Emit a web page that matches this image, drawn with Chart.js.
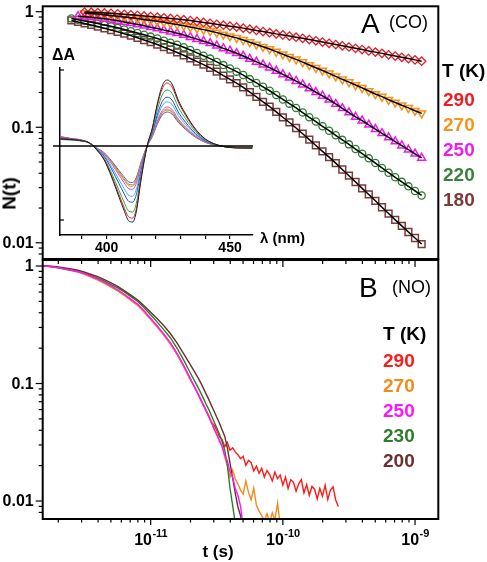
<!DOCTYPE html>
<html>
<head>
<meta charset="utf-8">
<script src="https://cdn.jsdelivr.net/npm/chart.js@4.4.1/dist/chart.umd.min.js"></script>
<style>
  body { margin: 0; background: #fff; }
  #wrap { position: relative; width: 487px; height: 562px; overflow: hidden; font-family: 'Liberation Sans', Arial, sans-serif; }
  canvas { position: absolute; left: 0; top: 0; }
  .t { position: absolute; white-space: nowrap; line-height: 1; color: #000; }
  .b { font-weight: bold; }
</style>
</head>
<body>
<div id="wrap">
  <canvas id="cA" width="487" height="562"></canvas>
  <canvas id="cB" width="487" height="562"></canvas>
  <canvas id="cI" width="487" height="562"></canvas>

  <!-- panel A labels -->
  <div class="t" style="left:361px;top:9.5px;font-size:28px;">A</div>
  <div class="t" style="left:389px;top:13px;font-size:18px;">(CO)</div>
  <div class="t b" style="left:442px;top:61.4px;font-size:19px;">T (K)</div>
  <div class="t b" style="left:443px;top:89.9px;font-size:19px;color:#ee1c24;">290</div>
  <div class="t b" style="left:443px;top:114.9px;font-size:19px;color:#f7941d;">270</div>
  <div class="t b" style="left:443px;top:139.9px;font-size:19px;color:#f01cf0;">250</div>
  <div class="t b" style="left:443px;top:165.4px;font-size:19px;color:#38823a;">220</div>
  <div class="t b" style="left:443px;top:189.9px;font-size:19px;color:#7b3a35;">180</div>

  <!-- inset labels -->
  <div class="t b" style="left:52px;top:47px;font-size:16px;">&Delta;A</div>
  <div class="t b" style="left:260px;top:229.5px;font-size:15px;">&lambda; (nm)</div>

  <!-- panel B labels -->
  <div class="t" style="left:359px;top:274.3px;font-size:28px;">B</div>
  <div class="t" style="left:392px;top:277.8px;font-size:18px;">(NO)</div>
  <div class="t b" style="left:383px;top:323.9px;font-size:19px;">T (K)</div>
  <div class="t b" style="left:383px;top:350.9px;font-size:19px;color:#ff1a1a;">290</div>
  <div class="t b" style="left:383px;top:375.9px;font-size:19px;color:#f7891a;">270</div>
  <div class="t b" style="left:383px;top:400.9px;font-size:19px;color:#ff14ff;">250</div>
  <div class="t b" style="left:383px;top:425.9px;font-size:19px;color:#2e7d2e;">230</div>
  <div class="t b" style="left:383px;top:450.9px;font-size:19px;color:#6e2e2e;">200</div>

  <!-- axis titles -->
  <div class="t b" style="left:-21.5px;top:183.5px;width:60px;height:19px;line-height:19px;text-align:center;font-size:19px;transform:rotate(-90deg);">N(t)</div>
  <div class="t b" style="left:188px;top:542.6px;width:60px;text-align:center;font-size:17px;">t (s)</div>
</div>

<script>
// N(t) recombination kinetics, CO (A) and NO (B), with inset spectra.

const FONT = "'Liberation Sans', Arial, sans-serif";

// ─── Panel A (CO): time grid + survival values ──────────────────────────────

const tA = [
  2.512e-12, 2.818e-12, 3.162e-12, 3.548e-12, 3.981e-12, 4.467e-12, 5.012e-12, 5.623e-12, 6.310e-12, 7.079e-12, 7.943e-12, 8.913e-12,
  1.000e-11, 1.122e-11, 1.259e-11, 1.413e-11, 1.585e-11, 1.778e-11, 1.995e-11, 2.239e-11, 2.512e-11, 2.818e-11,
  3.162e-11, 3.548e-11, 3.981e-11, 4.467e-11, 5.012e-11, 5.623e-11, 6.310e-11, 7.079e-11, 7.943e-11, 8.913e-11,
  1.000e-10, 1.122e-10, 1.259e-10, 1.413e-10, 1.585e-10, 1.778e-10, 1.995e-10, 2.239e-10, 2.512e-10, 2.818e-10,
  3.162e-10, 3.548e-10, 3.981e-10, 4.467e-10, 5.012e-10, 5.623e-10, 6.310e-10, 7.079e-10, 7.943e-10, 8.913e-10,
  1.000e-9, 1.122e-9
];

const nA290 = [null, null,
  0.994, 0.990, 0.984, 0.977, 0.969, 0.960, 0.950, 0.941, 0.930, 0.919, 0.908, 0.898, 0.886, 0.875, 0.863, 0.853,
  0.838, 0.823, 0.808, 0.794, 0.778, 0.765, 0.750, 0.737, 0.721, 0.706, 0.689, 0.673, 0.659, 0.643, 0.630, 0.615,
  0.602, 0.588, 0.574, 0.560, 0.546, 0.533, 0.520, 0.507, 0.495, 0.482, 0.470, 0.458, 0.447, 0.436, 0.424, 0.413,
  0.403, 0.393, 0.383, 0.373];

const nA270 = [null, null,
  0.973, 0.965, 0.956, 0.943, 0.928, 0.914, 0.901, 0.887, 0.872, 0.857, 0.841, 0.827, 0.811, 0.792, 0.775, 0.756,
  0.737, 0.718, 0.700, 0.681, 0.659, 0.636, 0.614, 0.594, 0.570, 0.545, 0.521, 0.498, 0.476, 0.451, 0.429, 0.407,
  0.387, 0.366, 0.346, 0.327, 0.310, 0.293, 0.276, 0.260, 0.246, 0.232, 0.219, 0.206, 0.194, 0.184, 0.173, 0.164,
  0.155, 0.147, 0.139, 0.132];

const nA250 = [null,
  0.914, 0.905, 0.896, 0.884, 0.868, 0.852, 0.834, 0.814, 0.795, 0.775, 0.756, 0.735, 0.715, 0.693, 0.673, 0.652,
  0.628, 0.603, 0.579, 0.556, 0.533, 0.508, 0.482, 0.459, 0.437, 0.414, 0.390, 0.368, 0.348, 0.328, 0.307, 0.287,
  0.268, 0.251, 0.234, 0.217, 0.201, 0.187, 0.173, 0.159, 0.146, 0.134, 0.123, 0.114, 0.105, 0.0963, 0.0887, 0.0817,
  0.0752, 0.0694, 0.0640, 0.0589, 0.0543];

const nA220 = [
  0.875, 0.853, 0.832, 0.811, 0.789, 0.768, 0.747, 0.725, 0.701, 0.678, 0.655, 0.631, 0.609, 0.586, 0.562, 0.539,
  0.518, 0.493, 0.466, 0.440, 0.416, 0.393, 0.368, 0.345, 0.323, 0.303, 0.283, 0.261, 0.242, 0.224, 0.207, 0.190,
  0.174, 0.160, 0.147, 0.134, 0.122, 0.112, 0.102, 0.0934, 0.0852, 0.0778, 0.0711, 0.0648, 0.0591, 0.0538, 0.0490,
  0.0445, 0.0404, 0.0369, 0.0337, 0.0308, 0.0281, 0.0257];

const nA180 = [
  0.841, 0.816, 0.792, 0.769, 0.745, 0.719, 0.693, 0.669, 0.645, 0.621, 0.595, 0.569, 0.545, 0.520, 0.493, 0.469,
  0.444, 0.420, 0.394, 0.370, 0.348, 0.326, 0.303, 0.280, 0.260, 0.241, 0.221, 0.201, 0.183, 0.166, 0.151, 0.136,
  0.122, 0.110, 0.0985, 0.0879, 0.0781, 0.0696, 0.0619, 0.0551, 0.0489, 0.0431, 0.0381, 0.0336, 0.0296, 0.0262,
  0.0231, 0.0203, 0.0179, 0.0158, 0.0140, 0.0124, 0.0110, 0.00975];

// ─── Panel B (NO): time grid + traces (each trace ends where its array ends) ─

const tB = [
  1.514e-12, 1.585e-12, 1.778e-12, 1.995e-12, 2.239e-12, 2.512e-12, 2.818e-12, 3.162e-12, 3.548e-12, 3.981e-12,
  4.467e-12, 5.012e-12, 5.623e-12, 6.310e-12, 7.079e-12, 7.943e-12, 8.913e-12, 1.000e-11, 1.122e-11, 1.259e-11,
  1.413e-11, 1.585e-11, 1.778e-11, 1.995e-11,
  2.188e-11, 2.291e-11, 2.399e-11, 2.512e-11, 2.630e-11, 2.754e-11, 2.884e-11, 3.020e-11, 3.162e-11, 3.311e-11,
  3.467e-11, 3.631e-11, 3.802e-11, 3.981e-11, 4.169e-11, 4.365e-11, 4.571e-11, 4.786e-11, 5.012e-11, 5.248e-11,
  5.495e-11, 5.754e-11, 6.026e-11, 6.310e-11, 6.607e-11, 6.918e-11, 7.244e-11, 7.586e-11, 7.943e-11, 8.318e-11,
  8.710e-11, 9.120e-11, 9.550e-11, 1.000e-10, 1.047e-10, 1.096e-10, 1.148e-10, 1.202e-10, 1.259e-10, 1.318e-10,
  1.380e-10, 1.445e-10, 1.514e-10, 1.585e-10, 1.660e-10, 1.738e-10, 1.820e-10, 1.905e-10, 1.995e-10, 2.089e-10,
  2.188e-10, 2.291e-10, 2.399e-10, 2.512e-10, 2.630e-10
];

const nB290 = [
  1.000, 0.998, 0.987, 0.967, 0.942, 0.917, 0.891, 0.855, 0.810, 0.766, 0.718, 0.668, 0.622, 0.569, 0.516, 0.469,
  0.411, 0.354, 0.306, 0.260, 0.219, 0.178, 0.141, 0.109,
  0.0898, 0.0814, 0.0722, 0.0660, 0.0585, 0.0530, 0.0470, 0.0440, 0.0398, 0.0352, 0.0334, 0.0290, 0.0315, 0.0270,
  0.0284, 0.0262, 0.0248, 0.0229, 0.0240, 0.0201, 0.0222, 0.0212, 0.0180, 0.0198, 0.0172, 0.0190, 0.0160, 0.0182,
  0.0168, 0.0148, 0.0176, 0.0155, 0.0166, 0.0137, 0.0160, 0.0128, 0.0152, 0.0145, 0.0121, 0.0140, 0.0152, 0.0117,
  0.0138, 0.0112, 0.0133, 0.0126, 0.0104, 0.0128, 0.0110, 0.0136, 0.0103, 0.0124, 0.0132, 0.0102, 0.0090];

const nB270 = [
  1.000, 0.997, 0.985, 0.964, 0.939, 0.913, 0.886, 0.849, 0.804, 0.759, 0.711, 0.661, 0.615, 0.562, 0.510, 0.463,
  0.406, 0.350, 0.302, 0.257, 0.216, 0.176, 0.139, 0.108,
  0.0898, 0.0798, 0.0738, 0.0644, 0.0595, 0.0519, 0.0480, 0.0402, 0.0379, 0.0318, 0.0294, 0.0237, 0.0199, 0.0160,
  0.0184, 0.0154, 0.0140, 0.0124, 0.0115, 0.0148, 0.0119, 0.0102, 0.0129, 0.0092, 0.0082, 0.0075, 0.0068, 0.0078,
  0.0066, 0.0079, 0.0069, 0.0096, 0.0062];

const nB250 = [
  1.000, 0.998, 0.988, 0.969, 0.945, 0.921, 0.896, 0.860, 0.816, 0.772, 0.724, 0.674, 0.628, 0.575, 0.522, 0.474,
  0.416, 0.358, 0.309, 0.263, 0.221, 0.180, 0.142, 0.110,
  0.0891, 0.0804, 0.0722, 0.0648, 0.0581, 0.0522, 0.0464, 0.0412, 0.0365, 0.0330, 0.0292, 0.0245, 0.0220, 0.0178,
  0.0160, 0.0128, 0.0112, 0.0090, 0.0060];

const nB230 = [
  1.000, 0.998, 0.988, 0.969, 0.947, 0.925, 0.901, 0.868, 0.827, 0.788, 0.742, 0.696, 0.651, 0.601, 0.549, 0.501,
  0.441, 0.384, 0.333, 0.286, 0.244, 0.199, 0.158, 0.123,
  0.1014, 0.0919, 0.0829, 0.0744, 0.0666, 0.0600, 0.0532, 0.0473, 0.0419, 0.0372, 0.0321, 0.0272, 0.0202, 0.0129,
  0.0092, 0.0064];

const nB200 = [
  1.000, 1.000, 0.994, 0.983, 0.963, 0.945, 0.921, 0.886, 0.847, 0.811, 0.765, 0.717, 0.672, 0.617, 0.565, 0.517,
  0.459, 0.405, 0.356, 0.310, 0.265, 0.221, 0.179, 0.145,
  0.1214, 0.1112, 0.1008, 0.0905, 0.0813, 0.0729, 0.0648, 0.0580, 0.0516, 0.0462, 0.0405, 0.0356, 0.0283, 0.0211,
  0.0157, 0.0117, 0.0089, 0.0075, 0.0061];

// ─── Inset: difference spectra (arbitrary units) ────────────────────────────

const lam = [381.2, 385, 389, 393, 396, 399, 402, 405, 407, 409, 410.5, 412, 414, 416.4,
             418.5, 420.5, 422.5, 424.5, 426.5, 429, 432, 436, 440, 445, 450, 455, 459];

const sp1 = [7, 6.5, 5.5, 3, -4, -14, -31, -51, -64, -75, -76, -66, -33, 0, 18, 42, 60, 66, 62, 46, 32, 17, 7, 1, -1.5, -2, -2];
const sp2 = [7.5, 6.8, 5.8, 3, -3.8, -13.3, -29.5, -48.5, -61, -71, -72, -63, -31, 0, 17, 40, 57, 63, 59, 44, 30.5, 16, 6.7, 1, -1.5, -2, -2.2];
const sp3 = [6.5, 6, 5.2, 3, -3.5, -12.2, -27, -44.4, -55.7, -65.3, -66, -57.5, -28.7, 0, 15.3, 35.7, 51, 56, 52.7, 39, 27.2, 14.5, 6, 0.8, -1.3, -1.8, -1.8];
const sp4 = [8, 7, 6, 3.2, -3, -10.4, -23, -37.7, -47.4, -55.5, -56.2, -48.8, -24.4, 0, 13.3, 31, 44.4, 48.8, 45.9, 34, 23.7, 12.6, 5.2, 0.7, -1.2, -1.6, -1.5];
const sp5 = [7, 6.3, 5.5, 3, -2.6, -9.2, -20.5, -33.7, -42.2, -49.5, -50.2, -43.6, -21.8, 0, 12, 28, 40.2, 44.2, 41.5, 30.8, 21.4, 11.4, 4.7, 0.7, -1.4, -1.8, -2];
const sp6 = [8.5, 7.3, 6, 3.1, -2.3, -8, -17.7, -29, -36.5, -42.8, -43.3, -37.6, -18.8, 0, 10.6, 24.8, 35.4, 39, 36.6, 27.1, 18.9, 10, 4.1, 0.6, -1.2, -1.6, -1.8];
const sp7 = [7.8, 6.9, 5.7, 3, -2.1, -7.4, -16.4, -27, -34, -39.8, -40.3, -35, -17.5, 0, 10, 23.5, 33.6, 37, 34.7, 25.8, 17.9, 9.5, 3.9, 0.6, -1.3, -1.7, -1.6];
const sp8 = [9, 7.5, 6.2, 3.2, -2, -7.1, -15.8, -26, -32.6, -38.3, -38.8, -33.7, -16.8, 0, 9.8, 22.9, 32.7, 36, 33.8, 25.1, 17.4, 9.3, 3.8, 0.5, -1.1, -1.5, -1.7];
const sp9 = [9.5, 7.8, 6.5, 3.3, -1.9, -6.7, -14.9, -24.5, -30.7, -36, -36.5, -31.7, -15.8, 0, 9.3, 21.6, 30.9, 34, 31.9, 23.7, 16.5, 8.8, 3.6, 0.5, -1.2, -1.6, -1.9];

const insetZeroLam = [378.3, 459.3];

// ─── Ticks ──────────────────────────────────────────────────────────────────

const yTickVals = [0.01, 0.1, 1];
const xTickExp = [-11, -10, -9];
const lamTicks = [390, 400, 410, 420, 430, 440, 450];
const insetYTicks = [76, -74];

// ─── Axis decoration: frame box, tick marks, y labels, 10^n labels ──────────
// Built per chart as a closure so the config never goes through option proxies.

function logTickList(min, max) {
  const out = [];
  for (let e = Math.floor(Math.log10(min)); e <= Math.ceil(Math.log10(max)); e++) {
    for (let m = 1; m < 10; m++) {
      const v = m * Math.pow(10, e);
      if (v >= min && v <= max) out.push({ v, major: m === 1 });
    }
  }
  return out;
}

function makeDeco(cfg) {
  return {
    id: 'deco',
    afterDraw(chart) {
      const { ctx, chartArea: a } = chart;
      ctx.save();
      ctx.strokeStyle = '#000';
      ctx.fillStyle = '#000';
      if (cfg.box) {
        ctx.lineWidth = 2;
        ctx.strokeRect(a.left, a.top, a.right - a.left, a.bottom - a.top);
      }
      ctx.lineWidth = 1.2;
      (cfg.marks || []).forEach((m) => {
        const sc = chart.scales[m.scale];
        const list = m.values ? m.values.map((v) => ({ v, major: true })) : logTickList(sc.min, sc.max);
        list.forEach((t) => {
          const p = sc.getPixelForValue(t.v);
          const len = t.major ? m.major : m.minor;
          ctx.beginPath();
          if (m.side === 'left')   { ctx.moveTo(a.left, p);   ctx.lineTo(a.left - len, p); }
          if (m.side === 'leftIn') { ctx.moveTo(a.left, p);   ctx.lineTo(a.left + len, p); }
          if (m.side === 'bottom') { ctx.moveTo(p, a.bottom); ctx.lineTo(p, a.bottom + len); }
          if (m.side === 'top')    { ctx.moveTo(p, a.top);    ctx.lineTo(p, a.top + len); }
          ctx.stroke();
        });
      });
      if (cfg.yLabels) {
        const sc = chart.scales.y;
        ctx.font = `bold 16px ${FONT}`;
        ctx.textAlign = 'right';
        ctx.textBaseline = 'middle';
        yTickVals.forEach((v) => ctx.fillText(String(v), a.left - 9, sc.getPixelForValue(v) + 1));
      }
      if (cfg.expY) {
        const sc = chart.scales.x;
        ctx.textAlign = 'left';
        ctx.textBaseline = 'alphabetic';
        xTickExp.forEach((e) => {
          const p = sc.getPixelForValue(Math.pow(10, e));
          const sup = String(e);
          ctx.font = `bold 16px ${FONT}`;
          const w1 = ctx.measureText('10').width;
          ctx.font = `bold 11px ${FONT}`;
          const w2 = ctx.measureText(sup).width;
          const x0 = p - (w1 + w2) / 2;
          ctx.font = `bold 16px ${FONT}`;
          ctx.fillText('10', x0, cfg.expY);
          ctx.font = `bold 11px ${FONT}`;
          ctx.fillText(sup, x0 + w1 + 0.5, cfg.expY - 8);
        });
      }
      ctx.restore();
    }
  };
}

// ─── Shared scale builders ──────────────────────────────────────────────────

const xLog = () => ({ type: 'logarithmic', min: 1.524e-12, max: 1.5e-9, display: false });

const yLog = (min, max) => ({
  type: 'logarithmic', min, max,
  afterFit: (s) => { s.width = 42.7; },
  grid: { display: false },
  border: { display: false },
  ticks: { display: false },
});

const base = { responsive: false, animation: false, events: [] };
const quiet = { legend: { display: false }, tooltip: { enabled: false } };

// ─── Panel A ────────────────────────────────────────────────────────────────

const seriesA = [
  { vals: nA290, color: '#e41e26', style: 'rectRot',  r: 4.2, rot: 0,   bw: 1.3 },
  { vals: nA270, color: '#f7901e', style: 'triangle', r: 4.6, rot: 180, bw: 1.5 },
  { vals: nA250, color: '#ec18ec', style: 'triangle', r: 4.6, rot: 0,   bw: 1.5 },
  { vals: nA220, color: '#2f7d32', style: 'circle',   r: 3.6, rot: 0,   bw: 1.3 },
  { vals: nA180, color: '#7a3b3b', style: 'rect',     r: 4.8, rot: 0,   bw: 1.5 },
];

const ptsA = (vals) => tA.map((t, j) => ({ x: t, y: vals[j] }));

new Chart(document.getElementById('cA'), {
  type: 'scatter',
  data: {
    datasets: [
      ...seriesA.map((s) => ({
        data: ptsA(s.vals), showLine: true, borderColor: '#000', borderWidth: 1.5,
        pointRadius: 0, order: 0,
      })),
      ...seriesA.map((s) => ({
        data: ptsA(s.vals), showLine: false,
        pointStyle: s.style, pointRotation: s.rot, pointRadius: s.r,
        pointBorderColor: s.color, pointBorderWidth: s.bw,
        pointBackgroundColor: 'rgba(255,255,255,0)', order: 1,
      })),
    ],
  },
  options: {
    ...base,
    layout: { padding: { left: 0, right: 48.7, top: 2, bottom: 303 } },
    scales: { x: xLog(), y: yLog(0.00724, 1.114) },
    plugins: quiet,
  },
  plugins: [makeDeco({ box: true, yLabels: true, marks: [{ scale: 'y', side: 'left', major: 7, minor: 4 }] })],
});

// ─── Panel B ────────────────────────────────────────────────────────────────

const seriesB = [
  { vals: nB250, color: '#ff14ff' },
  { vals: nB200, color: '#6e2e2e' },
  { vals: nB230, color: '#2e7d2e' },
  { vals: nB270, color: '#f7891a' },
  { vals: nB290, color: '#ff1a1a' },
];

new Chart(document.getElementById('cB'), {
  type: 'scatter',
  data: {
    datasets: seriesB.map((s) => ({
      data: s.vals.map((v, j) => ({ x: tB[j], y: v })),
      showLine: true, borderColor: s.color, borderWidth: 1.4, pointRadius: 0,
    })),
  },
  options: {
    ...base,
    layout: { padding: { left: 0, right: 48.7, top: 260, bottom: 43 } },
    scales: { x: xLog(), y: yLog(0.00703, 1.125) },
    plugins: quiet,
  },
  plugins: [makeDeco({
    box: true, yLabels: true, expY: 545,
    marks: [
      { scale: 'y', side: 'left', major: 7, minor: 4 },
      { scale: 'x', side: 'bottom', major: 6, minor: 3.5 },
      { scale: 'x', side: 'top', major: 7, minor: 4 },
    ],
  })],
});

// ─── Inset ──────────────────────────────────────────────────────────────────

const insetSpectra = [sp1, sp2, sp3, sp4, sp5, sp6, sp7, sp8, sp9];
const insetColors = ['#202020', '#e0202a', '#22b040', '#3040e0', '#20c0e0', '#e040e0', '#d89a30', '#8a8a3a', '#705090'];

new Chart(document.getElementById('cI'), {
  type: 'line',
  data: {
    datasets: [
      {
        data: insetZeroLam.map((x) => ({ x, y: 0 })),
        borderColor: '#000', borderWidth: 1.5, pointRadius: 0, clip: false,
      },
      ...insetSpectra.map((sp, i) => ({
        data: lam.map((x, j) => ({ x, y: sp[j] })),
        borderColor: insetColors[i], borderWidth: 1, pointRadius: 0,
        cubicInterpolationMode: 'monotone',
      })),
    ],
  },
  options: {
    ...base,
    layout: { padding: { left: 60, right: 234, top: 68, bottom: 300 } },
    scales: {
      x: {
        type: 'linear', min: 381.1, max: 459.3,
        afterBuildTicks: (s) => { s.ticks = lamTicks.map((v) => ({ value: v })); },
        afterFit: (s) => { s.height = 27; },
        grid: { display: true, drawOnChartArea: false, tickLength: 4, color: '#000', lineWidth: 1.2 },
        border: { display: true, color: '#000', width: 1.5 },
        ticks: {
          autoSkip: false, maxRotation: 0, padding: 1, color: '#000',
          font: { family: FONT, size: 14, weight: 'bold' },
          callback: (v) => (v % 50 === 0 ? String(v) : ''),
        },
      },
      y: {
        min: -89, max: 78,
        afterFit: (s) => { s.width = 0; },
        ticks: { display: false },
        grid: { display: false },
        border: { display: true, color: '#000', width: 1.5 },
      },
    },
    plugins: quiet,
  },
  plugins: [makeDeco({ marks: [{ scale: 'y', side: 'leftIn', values: insetYTicks, major: 4, minor: 4 }] })],
});
</script>
</body>
</html>
